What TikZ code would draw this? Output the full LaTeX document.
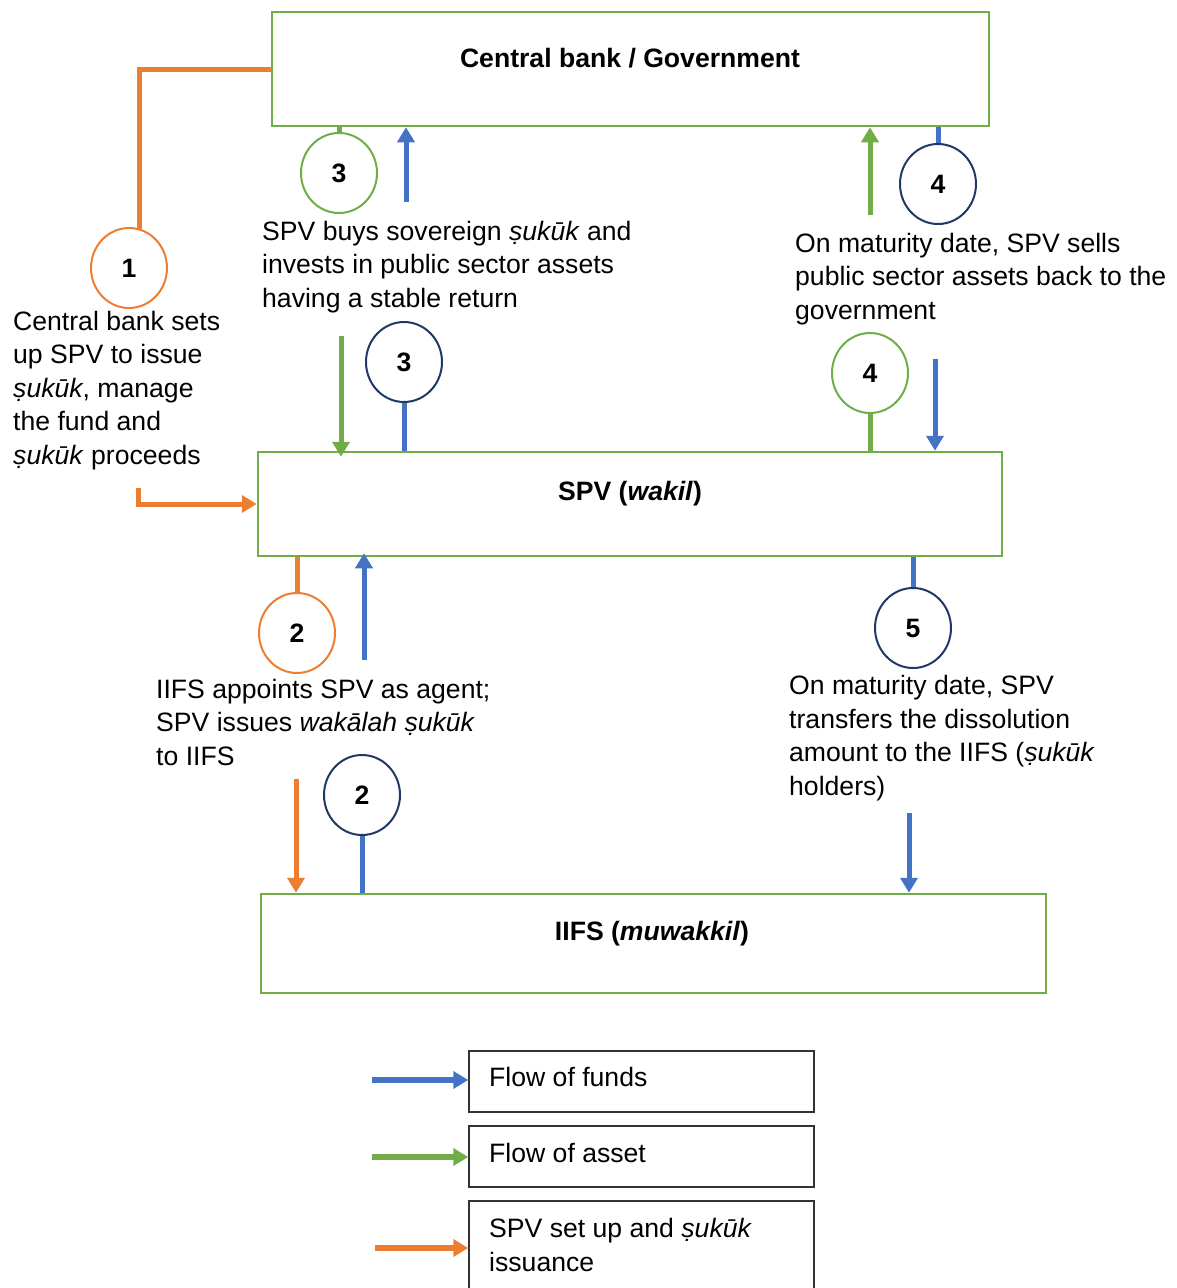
\documentclass[tikz,border=0pt]{standalone}
\usepackage{fontspec}
\setmainfont{Liberation Sans}
\usetikzlibrary{arrows.meta,shapes.geometric}
\definecolor{cOrange}{HTML}{ED7D31}
\definecolor{cGreen}{HTML}{70AD47}
\definecolor{cBlue}{HTML}{4472C4}
\definecolor{cNavy}{HTML}{203864}
\definecolor{cGray}{HTML}{333333}
\begin{document}
\begin{tikzpicture}[x=1pt,y=-1pt,
  mainbox/.style={draw=cGreen, line width=2.5pt, inner sep=0, rectangle},
  legbox/.style={draw=cGray, line width=1.5pt, inner sep=0, rectangle, minimum width=345pt},
  title/.style={inner sep=0, font=\fontsize{26.6}{31}\selectfont\bfseries},
  num/.style={ellipse, draw, line width=2pt, minimum width=76pt, minimum height=80pt, inner sep=0, font=\fontsize{26.6}{31}\selectfont\bfseries},
  txt/.style={anchor=base west, align=left, inner sep=0, font=\fontsize{26.6}{33.4}\selectfont},
  flow/.style={line width=5pt},
  tip/.style={-{Triangle[width=17pt,length=15pt]}}]
\clip (0,0) rectangle (1176,1288);
\useasboundingbox (0,0) rectangle (1176,1288);

% main boxes
\node[mainbox, minimum width=717pt, minimum height=114pt] (cb) at (630.5,69) {};
\node[mainbox, minimum width=744pt, minimum height=104pt] (spv) at (630,504) {};
\node[mainbox, minimum width=785pt, minimum height=99pt] (iifs) at (653.5,943.5) {};
\node[title] (cbt) at (630,58) {Central bank / Government};
\node[title] (spvt) at (630,494) {SPV (\textit{wakil})};
\node[title] (iifst) at (652,934) {IIFS (\textit{muwakkil})};

% circles
\node[num, draw=cOrange] (o1) at (129,268) {1};
\node[num, draw=cGreen] (g3) at (339,173) {3};
\node[num, draw=cNavy] (n3) at (404,362) {3};
\node[num, draw=cNavy] (n4) at (938,184) {4};
\node[num, draw=cGreen] (g4) at (870,373) {4};
\node[num, draw=cOrange] (o2) at (297,633) {2};
\node[num, draw=cNavy] (n5) at (913,628) {5};
\node[num, draw=cNavy] (n2) at (362,795) {2};

% texts (anchor = baseline of last line)
\node[txt] (t1) at (13,464) {Central bank sets\\up SPV to issue\\\textit{ṣukūk}, manage\\the fund and\\\textit{ṣukūk} proceeds};
\node[txt] (t3) at (262,307) {SPV buys sovereign \textit{ṣukūk} and\\invests in public sector assets\\having a stable return};
\node[txt] (t4) at (795,319) {On maturity date, SPV sells\\public sector assets back to the\\government};
\node[txt] (t2) at (156,765) {IIFS appoints SPV as agent;\\SPV issues \textit{wakālah ṣukūk}\\to IIFS};
\node[txt] (t5) at (789,795) {On maturity date, SPV\\transfers the dissolution\\amount to the IIFS (\textit{ṣukūk}\\holders)};

% free ends
\coordinate (oA) at (138,488);
\coordinate (bA) at (406,202);
\coordinate (gA) at (341,336);
\coordinate (gB) at (870,215);
\coordinate (bB) at (935,359);
\coordinate (bC) at (364,660);
\coordinate (oB) at (296,779);
\coordinate (bD) at (909,813);

% step 1
\draw[flow, cOrange] (o1.75) |- (cb.west);
\draw[flow, cOrange, tip] (oA) |- (spv.west);
% step 3
\draw[flow, cGreen] (g3.north) -- (g3.north |- cb.south);
\draw[flow, cBlue, tip] (bA) -- (bA |- cb.south);
\draw[flow, cGreen, tip] (gA) -- ([yshift=-6pt]gA |- spv.north);
\draw[flow, cBlue] (n3.south) -- (n3.south |- spv.north);
% step 4
\draw[flow, cGreen, tip] (gB) -- (gB |- cb.south);
\draw[flow, cBlue] (n4.north) -- (n4.north |- cb.south);
\draw[flow, cGreen] (g4.south) -- (g4.south |- spv.north);
\draw[flow, cBlue, tip] (bB) -- (bB |- spv.north);
% step 2
\draw[flow, cOrange] (o2.north) -- (o2.north |- spv.south);
\draw[flow, cBlue, tip] (bC) -- ([yshift=4pt]bC |- spv.south);
\draw[flow, cOrange, tip] (oB) -- (oB |- iifs.north);
\draw[flow, cBlue] (n2.south) -- (n2.south |- iifs.north);
% step 5
\draw[flow, cBlue] (n5.north) -- (n5.north |- spv.south);
\draw[flow, cBlue, tip] (bD) -- (bD |- iifs.north);

% legend
\node[legbox, minimum height=61pt] (l1) at (641.5,1081.5) {};
\node[legbox, minimum height=61pt] (l2) at (641.5,1156.5) {};
\node[legbox, minimum height=110pt] (l3) at (641.5,1256) {};
\node[txt] (l1t) at (489,1086) {Flow of funds};
\node[txt] (l2t) at (489,1162) {Flow of asset};
\node[txt] (l3t) at (489,1271) {SPV set up and \textit{ṣukūk}\\issuance};
\coordinate (lA) at (372,1080);
\coordinate (lB) at (372,1157);
\coordinate (lC) at (375,1248);
\draw[flow, line width=6pt, cBlue, tip] (lA) -- (lA -| l1.west);
\draw[flow, line width=6pt, cGreen, tip] (lB) -- (lB -| l2.west);
\draw[flow, line width=6pt, cOrange, tip] (lC) -- (lC -| l3.west);
\end{tikzpicture}
\end{document}
